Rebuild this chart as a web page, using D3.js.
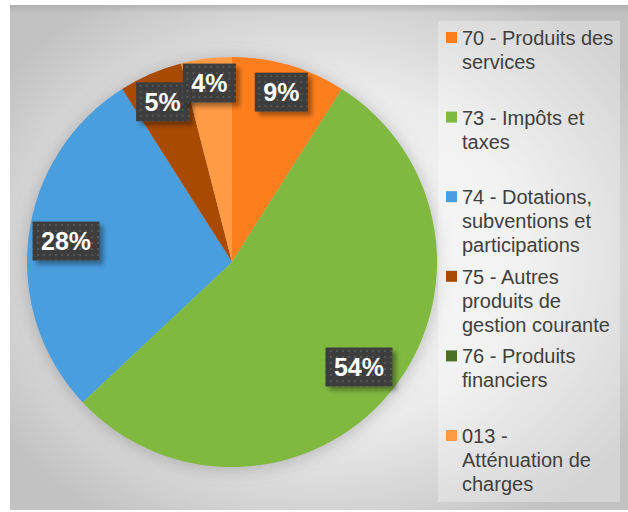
<!DOCTYPE html>
<html>
<head>
<meta charset="utf-8">
<script src="https://cdn.jsdelivr.net/npm/d3@7"></script>
<style>
  body { margin: 0; background: #fff; }
  svg { display: block; }
  .legendText { font-family: "Liberation Sans", Arial, sans-serif; font-size: 20px; fill: #404040; }
  .pctText { font-family: "Liberation Sans", Arial, sans-serif; font-size: 25px; font-weight: bold; fill: #fff; }
</style>
</head>
<body>
<div id="chart"></div>
<script>
// data
const categories = [
  "70 - Produits des services",
  "73 - Impôts et taxes",
  "74 - Dotations, subventions et participations",
  "75 - Autres produits de gestion courante",
  "76 - Produits financiers",
  "013 - Atténuation de charges"
];
const legendLines = [
  ["70 - Produits des", "services"],
  ["73 - Impôts et", "taxes"],
  ["74 - Dotations,", "subventions et", "participations"],
  ["75 - Autres", "produits de", "gestion courante"],
  ["76 - Produits", "financiers"],
  ["013 -", "Atténuation de", "charges"]
];
const values = [9, 54, 28, 5, 0, 4];
const colors = ["#fd7e1c", "#80b941", "#4a9ede", "#a84b00", "#4a7026", "#ff9a45"];

const width = 628;
const height = 512;

const svg = d3.select("#chart").append("svg")
  .attr("width", width)
  .attr("height", height);

const defs = svg.append("defs");

const bg = defs.append("radialGradient")
  .attr("id", "bgGrad")
  .attr("cx", "50%").attr("cy", "50%").attr("r", "62%");
bg.append("stop").attr("offset", "0%").attr("stop-color", "#fbfbfb");
bg.append("stop").attr("offset", "55%").attr("stop-color", "#ebebeb");
bg.append("stop").attr("offset", "100%").attr("stop-color", "#c2c2c2");

const topEdge = defs.append("linearGradient")
  .attr("id", "topEdge").attr("x1", 0).attr("y1", 0).attr("x2", 0).attr("y2", 1);
topEdge.append("stop").attr("offset", "0%").attr("stop-color", "#9a9a9a").attr("stop-opacity", 0.45);
topEdge.append("stop").attr("offset", "100%").attr("stop-color", "#9a9a9a").attr("stop-opacity", 0);

const pieShadow = defs.append("filter").attr("id", "pieShadow")
  .attr("x", "-20%").attr("y", "-20%").attr("width", "140%").attr("height", "140%");
pieShadow.append("feDropShadow")
  .attr("dx", 0).attr("dy", 2).attr("stdDeviation", 9)
  .attr("flood-color", "#707070").attr("flood-opacity", 0.45);

const boxShadow = defs.append("filter").attr("id", "boxShadow")
  .attr("x", "-30%").attr("y", "-30%").attr("width", "160%").attr("height", "160%");
boxShadow.append("feDropShadow")
  .attr("dx", 4).attr("dy", 4).attr("stdDeviation", 2)
  .attr("flood-color", "#000").attr("flood-opacity", 0.35);

const dots = defs.append("pattern")
  .attr("id", "dots")
  .attr("width", 6).attr("height", 6)
  .attr("patternUnits", "userSpaceOnUse");
dots.append("rect").attr("width", 6).attr("height", 6).attr("fill", "#3d3d3d");
dots.append("rect").attr("x", 1).attr("y", 1).attr("width", 2).attr("height", 2).attr("fill", "#565656");

// frame
svg.append("rect")
  .attr("x", 10).attr("y", 5)
  .attr("width", width - 10).attr("height", 505)
  .attr("fill", "url(#bgGrad)");
svg.append("rect")
  .attr("x", 10).attr("y", 5)
  .attr("width", width - 10).attr("height", 8)
  .attr("fill", "url(#topEdge)");

// pie
const cx = 232;
const cy = 262;
const radius = 205;

const pie = d3.pie().sort(null).value(d => d)(values);
const arc = d3.arc().innerRadius(0).outerRadius(radius);

const groupPie = svg.append("g")
  .attr("class", "pie")
  .attr("transform", `translate(${cx},${cy})`);

groupPie.append("g")
  .attr("filter", "url(#pieShadow)")
  .selectAll("path")
  .data(pie)
  .enter()
  .append("path")
  .attr("d", arc)
  .attr("fill", (d, i) => colors[i]);

// labels (inside end, like excel)
const labels = groupPie.selectAll(".pctLabel")
  .data(pie.filter(d => d.data > 0))
  .enter()
  .append("g")
  .attr("class", "pctLabel");

labels.each(function (d) {
  const g = d3.select(this);
  const t = g.append("text")
    .attr("class", "pctText")
    .attr("text-anchor", "middle")
    .attr("dy", "0.36em")
    .text(Math.round(d.data) + "%");
  const tw = t.node().getComputedTextLength();
  const bw = tw + 17;
  const bh = 39;
  const a = (d.startAngle + d.endAngle) / 2;
  const ext = (bw / 2) * Math.abs(Math.sin(a)) + (bh / 2) * Math.abs(Math.cos(a));
  const rho = radius - 2 - ext;
  g.attr("transform", `translate(${rho * Math.sin(a)},${-rho * Math.cos(a)})`);
  g.insert("rect", "text")
    .attr("x", -bw / 2).attr("y", -bh / 2)
    .attr("width", bw).attr("height", bh)
    .attr("fill", "url(#dots)")
    .attr("filter", "url(#boxShadow)");
});

// legend
const legendX = 438;
const legendY = 21;
const slot = 79.6;

svg.append("rect")
  .attr("x", legendX).attr("y", legendY)
  .attr("width", 182).attr("height", 481)
  .attr("fill", "#fff").attr("fill-opacity", 0.3);

const legend = svg.append("g").attr("class", "legend");

const item = legend.selectAll(".item")
  .data(categories)
  .enter()
  .append("g")
  .attr("class", "item")
  .attr("transform", (d, i) => `translate(${legendX},${legendY + 24 + i * slot})`);

item.append("rect")
  .attr("x", 8).attr("y", -13)
  .attr("width", 11).attr("height", 11)
  .attr("fill", (d, i) => colors[i]);

item.append("text")
  .attr("class", "legendText")
  .attr("x", 24)
  .selectAll("tspan")
  .data((d, i) => legendLines[i])
  .enter()
  .append("tspan")
  .attr("x", 24)
  .attr("dy", (d, j) => (j === 0 ? 0 : 24))
  .text(d => d);
</script>
</body>
</html>
